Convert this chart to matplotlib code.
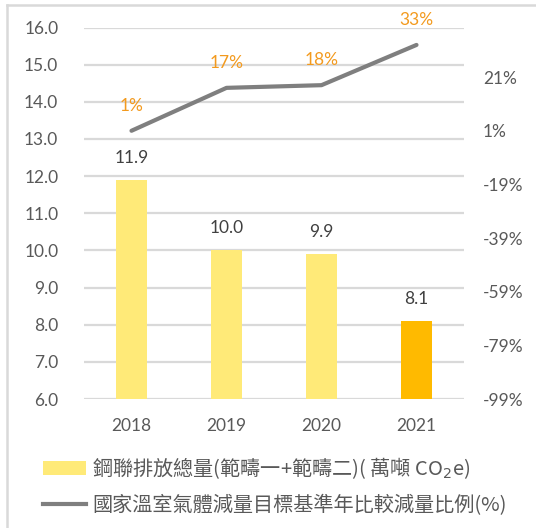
import matplotlib
matplotlib.use("Agg")
import matplotlib.pyplot as plt
from matplotlib.lines import Line2D
from matplotlib.patches import Patch
import numpy as np

years = ["2018", "2019", "2020", "2021"]
emissions = [11.9, 10.0, 9.9, 8.1]
reduction_pct = [1, 17, 18, 33]
bar_colors = ["#FFEA78", "#FFEA78", "#FFEA78", "#FFBA00"]
left_ticks = [6.0, 7.0, 8.0, 9.0, 10.0, 11.0, 12.0, 13.0, 14.0, 15.0, 16.0]
right_ticks = [-99, -79, -59, -39, -19, 1, 21]
legend_labels = ["鋼聯排放總量(範疇一+範疇二)( 萬噸 CO$_2$e)",
                 "國家溫室氣體減量目標基準年比較減量比例(%)"]

NUM_FONT = "Lato"
CJK_FONT = ["Noto Sans CJK TC", "DejaVu Sans"]
TXT = "#595959"
GRID = "#D9D9D9"

fig = plt.figure(figsize=(5.36, 5.28), dpi=100)
ax = fig.add_axes([84 / 536, 1 - 399 / 528, 380 / 536, 371.5 / 528])
x = np.arange(len(years))

ax.set_ylim(6.0, 16.0)
ax.set_xlim(-0.5, 3.5)
ax.set_yticks(left_ticks)
ax.set_yticklabels([f"{v:.1f}" for v in left_ticks], fontfamily=NUM_FONT, fontsize=12.5, color=TXT)
ax.set_xticks(x)
ax.set_xticklabels(years, fontfamily=NUM_FONT, fontsize=12.5, color=TXT)
ax.tick_params(axis="both", length=0)
ax.tick_params(axis="y", pad=18.5)
ax.tick_params(axis="x", pad=14)
for s in ax.spines.values():
    s.set_visible(False)
ax.yaxis.grid(True, color=GRID, lw=1.6)
ax.set_axisbelow(True)

bars = ax.bar(x, emissions, width=0.316, color=bar_colors, zorder=2)
for xi, v in zip(x, emissions):
    ax.annotate(f"{v:.1f}", (xi, v), xytext=(0, 16), textcoords="offset points",
                ha="center", va="center", fontfamily=NUM_FONT, fontsize=12.5, color="#404040")

ax2 = ax.twinx()
ax2.set_ylim(-99, 39.5)
ax2.set_yticks(right_ticks)
ax2.set_yticklabels([f"{v}%" for v in right_ticks], fontfamily=NUM_FONT, fontsize=12.5, color=TXT)
ax2.tick_params(axis="y", length=0, pad=13.5)
for s in ax2.spines.values():
    s.set_visible(False)
ax2.plot(x, reduction_pct, color="#7F7F7F", lw=3.0, solid_capstyle="round", zorder=3)
for xi, v in zip(x, reduction_pct):
    ax2.annotate(f"{v}%", (xi, v), xytext=(0, 18), textcoords="offset points",
                 ha="center", va="center", fontfamily=NUM_FONT, fontsize=12.5, color="#F39A1E")

handles = [Patch(facecolor="#FFEA78", edgecolor="none"),
           Line2D([0], [0], color="#7F7F7F", lw=3.0)]
leg = fig.legend(handles, legend_labels, loc="upper left",
                 bbox_to_anchor=(37 / 536, 1 - 449 / 528), frameon=False,
                 prop={"family": CJK_FONT, "size": 14.5},
                 handlelength=2.15, handletextpad=0.28, labelspacing=0.7,
                 borderaxespad=0, borderpad=0.3)
for t in leg.get_texts():
    t.set_color(TXT)

# outer frame (top and left edges)
fig.add_artist(Line2D([7 / 536, 7 / 536], [0, 1 - 5 / 528], transform=fig.transFigure, color=GRID, lw=1.8))
fig.add_artist(Line2D([7 / 536, 1], [1 - 5 / 528, 1 - 5 / 528], transform=fig.transFigure, color=GRID, lw=1.8))

fig.savefig("out.png", dpi=100)
